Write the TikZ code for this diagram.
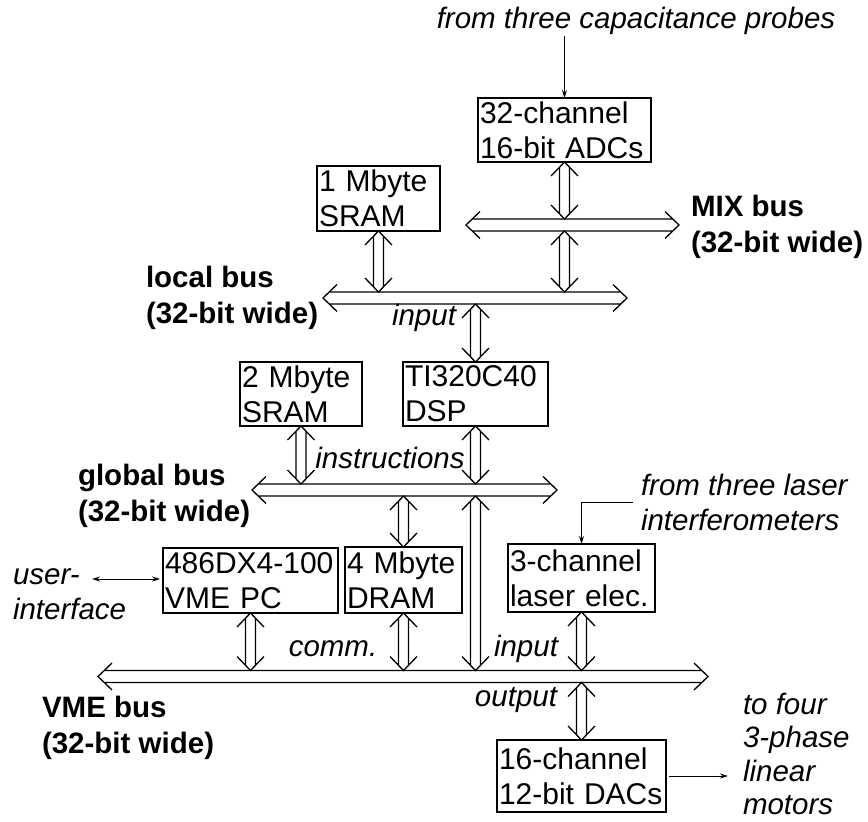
\documentclass[tikz,border=0pt]{standalone}
\usepackage{fontspec}
\setmainfont{Liberation Sans}
\usetikzlibrary{calc,arrows.meta}
\newcommand{\vdarrow}[2]{%
  \draw[hol] let \p1=#1, \p2=#2 in
   (\x1-13.5pt,\y1-14pt) -- (\x1,\y1) -- (\x1+13.5pt,\y1-14pt)
   (\x1-5pt,\y1-5.2pt) -- (\x1-5pt,\y2+5.2pt)
   (\x1+5pt,\y1-5.2pt) -- (\x1+5pt,\y2+5.2pt)
   (\x1-13.5pt,\y2+14pt) -- (\x1,\y2) -- (\x1+13.5pt,\y2+14pt);}
\newcommand{\hdarrow}[2]{%
  \draw[hol] let \p1=#1, \p2=#2 in
   (\x1+14pt,\y1+13.5pt) -- (\x1,\y1) -- (\x1+14pt,\y1-13.5pt)
   (\x1+6.2pt,\y1+6pt) -- (\x2-6.2pt,\y1+6pt)
   (\x1+6.2pt,\y1-6pt) -- (\x2-6.2pt,\y1-6pt)
   (\x2-14pt,\y1+13.5pt) -- (\x2,\y1) -- (\x2-14pt,\y1-13.5pt);}
\tikzset{
  hol/.style={line width=1.3pt, line join=miter},
  blk/.style={draw, line width=1.3pt, anchor=north west, inner xsep=2pt, inner ysep=0pt,
              outer sep=0pt, align=left, font=\fontsize{30}{35}\selectfont},
  lab/.style={inner sep=0pt, outer sep=0pt, align=left, font=\fontsize{29.5}{36}\selectfont},
  blab/.style={lab, font=\fontsize{29.5}{36}\selectfont\bfseries},
  ilab/.style={lab, font=\fontsize{29.5}{35}\selectfont\itshape},
  thinarr/.style={line width=1pt, -{Stealth[length=8pt,width=5pt]}},
  thinarrb/.style={line width=1pt, {Stealth[length=8pt,width=5pt]}-{Stealth[length=8pt,width=5pt]}}
}
\begin{document}
\begin{tikzpicture}[x=1pt,y=-1pt]
\fill[white] (0,0) rectangle (868,822);
\useasboundingbox (0,0) rectangle (868,822);

% boxes
\node[blk, text width=169pt, minimum height=64pt] (adc)  at (478,98)  {\mbox{32-channel}\\\mbox{16-bit ADCs}};
\node[blk, text width=119pt, minimum height=65pt] (sram1) at (317,166) {\mbox{1 Mbyte}\\SRAM};
\node[blk, text width=118pt, minimum height=64pt] (sram2) at (240,362) {\mbox{2 Mbyte}\\SRAM};
\node[blk, text width=141pt, minimum height=64pt] (dsp)  at (403,362) {\mbox{TI320C40}\\DSP};
\node[blk, text width=171pt, minimum height=65pt] (pc)   at (163,548) {\mbox{486DX4-100}\\\mbox{VME PC}};
\node[blk, text width=113pt, minimum height=66pt] (dram) at (345,547) {\mbox{4 Mbyte}\\DRAM};
\node[blk, text width=143pt, minimum height=68pt] (lsr)  at (508,544) {\mbox{3-channel}\\\mbox{laser elec.}};
\node[blk, text width=165pt, minimum height=72pt] (dac)  at (497,740) {\mbox{16-channel}\\\mbox{12-bit DACs}};

% bus end points
\coordinate (mixL) at (466,225);   \coordinate (mixR) at (679,225);
\coordinate (locL) at (323,298);   \coordinate (locR) at (627,298);
\coordinate (gloL) at (252,490);   \coordinate (gloR) at (557,490);
\coordinate (vmeL) at (98,676.5);  \coordinate (vmeR) at (708,676.5);

% buses
\hdarrow{(mixL)}{(mixR)}
\hdarrow{(locL)}{(locR)}
\hdarrow{(gloL)}{(gloR)}
\hdarrow{(vmeL)}{(vmeR)}

% bus labels
\node[blab, anchor=west] (mixlab) at (691,227) {MIX bus\\(32-bit wide)};
\node[blab, anchor=west] (loclab) at (146,298) {local bus\\(32-bit wide)};
\node[blab, anchor=west] (glolab) at (78,496) {global bus\\(32-bit wide)};
\node[blab, anchor=west] (vmelab) at (42,728) {VME bus\\(32-bit wide)};

% hollow connectors
\vdarrow{(adc.south)}{($(adc.south|-mixL)+(0,-6)$)}
\vdarrow{($(adc.south|-mixL)+(0,6)$)}{($(adc.south|-locL)+(0,-6)$)}
\vdarrow{(sram1.south)}{($(sram1.south|-locL)+(0,-6)$)}
\vdarrow{($(dsp.north|-locL)+(0,6)$)}{(dsp.north)}
\vdarrow{(sram2.south)}{($(sram2.south|-gloL)+(0,-6)$)}
\vdarrow{(dsp.south)}{($(dsp.south|-gloL)+(0,-6)$)}
\vdarrow{($(dram.north|-gloL)+(0,6)$)}{(dram.north)}
\vdarrow{($(dsp.south|-gloL)+(0,6)$)}{($(dsp.south|-vmeL)+(0,-6)$)}
\vdarrow{(pc.south)}{($(pc.south|-vmeL)+(0,-6)$)}
\vdarrow{(dram.south)}{($(dram.south|-vmeL)+(0,-6)$)}
\vdarrow{(lsr.south)}{($(lsr.south|-vmeL)+(0,-6)$)}
\vdarrow{($(dac.north|-vmeL)+(0,6)$)}{(dac.north)}

% italic labels
\node[ilab] (cap) at (636,21) {from three capacitance probes};
\node[ilab] (in1) at (424,318) {input};
\node[ilab] (instr) at (390,458) {instructions};
\node[ilab] (comm) at (333,649) {comm.};
\node[ilab] (in2) at (526,649) {input};
\node[ilab] (outp) at (516,700) {output};
\node[ilab, anchor=west] (laser) at (641,502) {from three laser\\interferometers};
\node[ilab, anchor=west] (user) at (13,594.5) {user-\\interface};
\node[ilab, anchor=west, font=\fontsize{29.5}{33.5}\selectfont\itshape] (mot) at (743,754) {to four\\3-phase\\linear\\motors};

% thin arrows
\draw[thinarr] ($(cap.south -| adc.north)+(0,1)$) -- (adc.north);
\draw[thinarr] ($(laser.west)+(-8,0)$) -| (lsr.north);
\coordinate (ua) at (92,579);
\draw[thinarrb] (ua) -- ($(ua -| pc.west)+(-3,0)$);
\draw[thinarr] ($(dac.east)+(3,0)$) -- ($(mot.west |- dac.east)+(-15,0)$);
\end{tikzpicture}
\end{document}
